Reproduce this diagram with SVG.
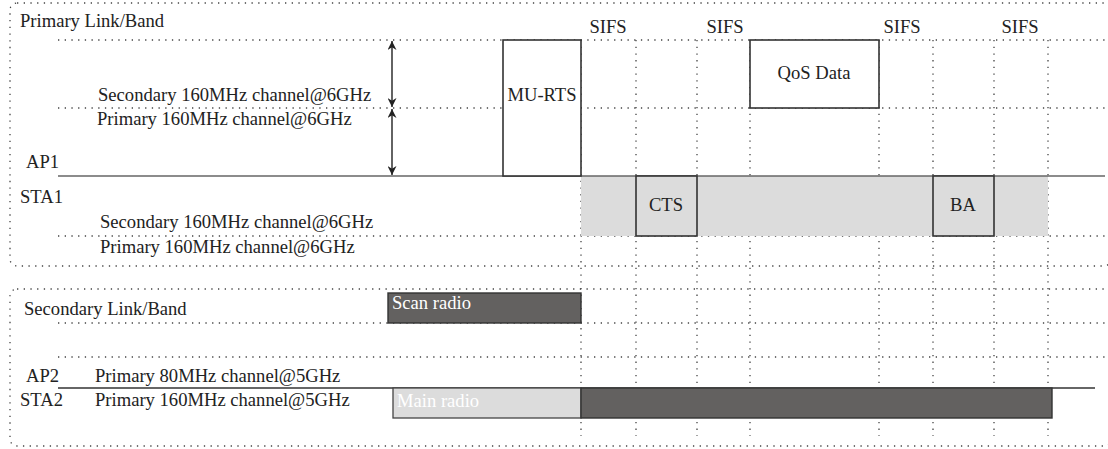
<svg xmlns="http://www.w3.org/2000/svg" width="1108" height="449" viewBox="0 0 1108 449">
<style>
text{font-family:"Liberation Serif","Times New Roman",serif;font-size:18.6px;fill:#222}
.dot{stroke:#444;stroke-width:1.3;stroke-dasharray:1.3 5.4;fill:none}
.frame{stroke:#444;stroke-width:1.3;stroke-dasharray:1.3 5.4;fill:none}
.box{stroke:#333;stroke-width:1.6;fill:#fff}
.mid{text-anchor:middle}
</style>
<defs>
<marker id="ah" viewBox="0 0 10 10" refX="10" refY="5" markerWidth="9" markerHeight="9" markerUnits="userSpaceOnUse" orient="auto-start-reverse">
<path d="M0,0 L10,5 L0,10 L3,5 Z" fill="#222"/>
</marker>
</defs>
<g id="frames">
<rect class="frame" x="10" y="3" width="1101" height="263" rx="7"/>
<rect class="frame" x="10" y="289" width="1101" height="157" rx="7"/>
</g>
<g id="grid">
<line class="dot" x1="58" y1="40" x2="1106" y2="40"/>
<line class="dot" x1="58" y1="108" x2="1106" y2="108"/>
<line class="dot" x1="58" y1="236" x2="1106" y2="236"/>
<line class="dot" x1="58" y1="323" x2="1106" y2="323"/>
<line class="dot" x1="58" y1="357" x2="1106" y2="357"/>
<line class="dot" x1="581" y1="40" x2="581" y2="436"/>
<line class="dot" x1="636" y1="40" x2="636" y2="436"/>
<line class="dot" x1="697" y1="40" x2="697" y2="436"/>
<line class="dot" x1="750" y1="40" x2="750" y2="436"/>
<line class="dot" x1="879" y1="40" x2="879" y2="436"/>
<line class="dot" x1="933" y1="40" x2="933" y2="436"/>
<line class="dot" x1="994" y1="40" x2="994" y2="436"/>
<line class="dot" x1="1048" y1="40" x2="1048" y2="436"/>
</g>
<g id="sta1-busy"><rect x="581" y="176" width="467" height="60" fill="#dcdcdc"/></g>
<g id="connectors">
<line x1="58" y1="176" x2="1105" y2="176" stroke="#666" stroke-width="1.6"/>
<line x1="58" y1="388" x2="1095" y2="388" stroke="#333" stroke-width="1.3"/>
<line x1="392" y1="41" x2="392" y2="107" stroke="#222" stroke-width="1.4" marker-start="url(#ah)" marker-end="url(#ah)"/>
<line x1="392" y1="109" x2="392" y2="175" stroke="#222" stroke-width="1.4" marker-start="url(#ah)" marker-end="url(#ah)"/>
</g>
<g id="labels">
<text x="20" y="27">Primary Link/Band</text>
<text x="98" y="101">Secondary 160MHz channel@6GHz</text>
<text x="97" y="125">Primary 160MHz channel@6GHz</text>
<text x="26" y="168">AP1</text>
<text x="20" y="203">STA1</text>
<text x="100" y="228">Secondary 160MHz channel@6GHz</text>
<text x="100" y="253">Primary 160MHz channel@6GHz</text>
<text x="24" y="315">Secondary Link/Band</text>
<text x="26" y="382">AP2</text>
<text x="95" y="382">Primary 80MHz channel@5GHz</text>
<text x="20" y="406">STA2</text>
<text x="95" y="406">Primary 160MHz channel@5GHz</text>
<text class="mid" x="608" y="33">SIFS</text>
<text class="mid" x="725" y="33">SIFS</text>
<text class="mid" x="902" y="33">SIFS</text>
<text class="mid" x="1020" y="33">SIFS</text>
</g>
<g id="mu-rts"><rect class="box" x="503" y="40" width="78" height="136"/><text class="mid" x="542" y="101">MU-RTS</text></g>
<g id="qos-data"><rect class="box" x="750" y="40" width="129" height="68"/><text class="mid" x="814" y="79">QoS Data</text></g>
<g id="cts"><rect class="box" x="636" y="176" width="61" height="60" style="fill:#dcdcdc"/><text class="mid" x="666" y="211">CTS</text></g>
<g id="ba"><rect class="box" x="933" y="176" width="61" height="60" style="fill:#dcdcdc"/><text class="mid" x="963" y="211">BA</text></g>
<g id="scan-radio"><rect x="388" y="293" width="193" height="30" fill="#636160" stroke="#333" stroke-width="1.4"/><text x="392" y="309" style="fill:#fff">Scan radio</text></g>
<g id="main-radio"><rect x="393" y="388" width="188" height="30" fill="#dcdcdc" stroke="#444" stroke-width="1.3"/><text x="397" y="407" style="fill:#fff">Main radio</text></g>
<g id="main-radio-busy"><rect x="581" y="388" width="471" height="30" fill="#636160" stroke="#333" stroke-width="1.4"/></g>
</svg>
